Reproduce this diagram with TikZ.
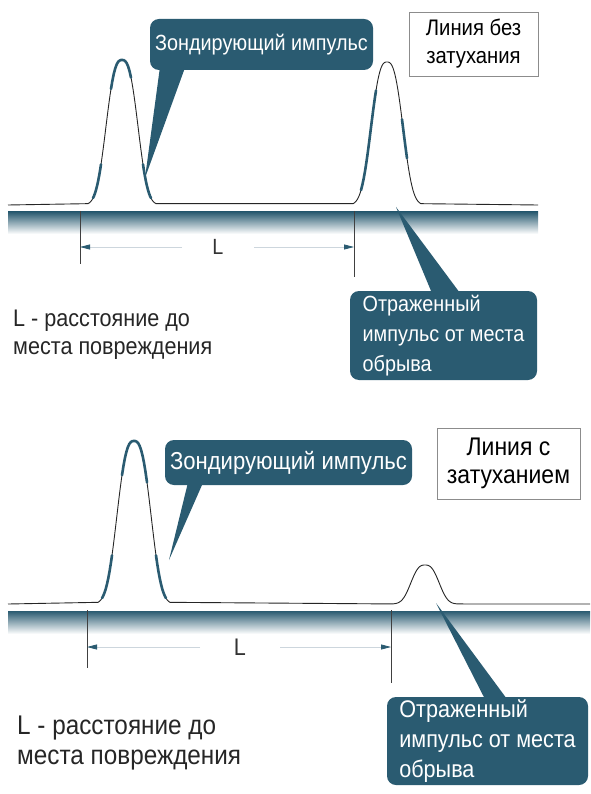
\documentclass[tikz,border=0pt]{standalone}
\usepackage{fontspec}
\setmainfont{Liberation Sans}[FakeStretch=0.9]
\usetikzlibrary{arrows.meta,calc}
\definecolor{pulseteal}{HTML}{2A5B71}
\definecolor{dimgray}{HTML}{CDD6DD}
\newcommand{\fsz}[2]{\fontsize{#1}{#2}\selectfont}

\begin{document}
\begin{tikzpicture}[x=1pt,y=-1pt,
  declare function={bell(\px,\pc,\ph,\pw)=\ph*exp(-((abs(\px-\pc)+0.001)/\pw)^2.7);},
  trace/.style={black!85,line width=0.9pt},
  hilite/.style={pulseteal,line width=2.6pt,line cap=round},
  bar/.style={top color=pulseteal,middle color=pulseteal!45,bottom color=white},
  tickline/.style={black!75,line width=0.9pt},
  dimline/.style={dimgray,line width=0.8pt,-{Triangle[length=10pt,width=5pt,color=pulseteal]}},
  callout/.style={fill=pulseteal,text=white,rounded corners=9pt,inner sep=0pt},
  infobox/.style={draw=black!45,fill=white,align=center,inner sep=0pt,line width=0.8pt},
  note/.style={text=black!85,align=left,inner sep=0pt},
]
  \useasboundingbox[fill=white] (0,0) rectangle (590,794);

  % --- line without attenuation ---
  \shade[bar] (8,212) rectangle (538,234);
  \draw[trace] (8,205)
    -- plot[domain=88:156,samples=69] (\x,{205-bell(\x,122,145,19.2)})
    -- plot[domain=353:421,samples=69] (\x,{205-bell(\x,387,143,19.2)})
    -- (538,205);
  \draw[hilite] plot[domain=93:101,samples=9] (\x,{205-bell(\x,122,145,19.2)});
  \draw[hilite] plot[domain=111:131,samples=15] (\x,{205-bell(\x,122,145,19.2)});
  \draw[hilite] plot[domain=143:151,samples=9] (\x,{205-bell(\x,122,145,19.2)});
  \draw[hilite] plot[domain=361:376,samples=12] (\x,{205-bell(\x,387,143,19.2)});
  \draw[hilite] plot[domain=402:407,samples=6] (\x,{205-bell(\x,387,143,19.2)});

  \draw[tickline] (80,211) -- (80,264);
  \draw[tickline] (354,211) -- (354,277);
  \coordinate (tickTa) at (80,247);
  \coordinate (tickTb) at (354,247);
  \node[font=\fsz{22}{26},text=black!80] (lenT) at (218,247) {L};
  \draw[dimline] ([xshift=-36pt]lenT.center) -- (tickTa);
  \draw[dimline] ([xshift=36pt]lenT.center) -- (tickTb);

  \node[callout,font=\fsz{22}{26},minimum width=223,minimum height=51] (zondT) at (261.5,44.5) {Зондирующий импульс};
  \coordinate (zondTtip) at (145,178);
  \fill[pulseteal] ([xshift=10pt,yshift=2pt]zondT.south west) -- (zondTtip) -- ([xshift=35pt,yshift=2pt]zondT.south west) -- cycle;

  \node[callout,font=\fsz{22}{30},align=left,minimum width=187,minimum height=89] (reflT) at (443.5,335.5) {Отраженный\\импульс от места\\обрыва};
  \coordinate (reflTtip) at (396,207);
  \fill[pulseteal] ([xshift=82pt,yshift=-2pt]reflT.north west) -- (reflTtip) -- ([xshift=110pt,yshift=-2pt]reflT.north west) -- cycle;

  \node[infobox,font=\fsz{22.5}{28},minimum width=129,minimum height=64] (modeT) at (473.5,44) {Линия без\\затухания};
  \node[note,font=\fsz{24}{28},anchor=west] (noteT) at (13,335) {L - расстояние до\\места повреждения};

  % --- line with attenuation ---
  \shade[bar] (8,611) rectangle (590,634);
  \draw[trace] (8,604)
    -- plot[domain=98:170,samples=73] (\x,{604-bell(\x,134,163,20.5)})
    -- plot[domain=391:459,samples=69] (\x,{604-bell(\x,425,39,17)})
    -- (590,604);
  \draw[hilite] plot[domain=102:112,samples=9] (\x,{604-bell(\x,134,163,20.5)});
  \draw[hilite] plot[domain=122:147,samples=18] (\x,{604-bell(\x,134,163,20.5)});
  \draw[hilite] plot[domain=156:166,samples=9] (\x,{604-bell(\x,134,163,20.5)});

  \draw[tickline] (87,610) -- (87,668);
  \draw[tickline] (391,610) -- (391,683);
  \coordinate (tickBa) at (87,647);
  \coordinate (tickBb) at (391,647);
  \node[font=\fsz{24}{28},text=black!80] (lenB) at (240,647) {L};
  \draw[dimline] ([xshift=-40pt]lenB.center) -- (tickBa);
  \draw[dimline] ([xshift=40pt]lenB.center) -- (tickBb);

  \node[callout,font=\fsz{24.5}{28},minimum width=247,minimum height=45] (zondB) at (288.5,462.5) {Зондирующий импульс};
  \coordinate (zondBtip) at (169,560);
  \fill[pulseteal] ([xshift=23pt,yshift=2pt]zondB.south west) -- (zondBtip) -- ([xshift=38pt,yshift=2pt]zondB.south west) -- cycle;

  \node[callout,font=\fsz{24}{30},align=left,minimum width=201,minimum height=88] (reflB) at (487.5,741) {Отраженный\\импульс от места\\обрыва};
  \coordinate (reflBtip) at (436,603);
  \fill[pulseteal] ([xshift=98pt,yshift=-2pt]reflB.north west) -- (reflBtip) -- ([xshift=120pt,yshift=-2pt]reflB.north west) -- cycle;

  \node[infobox,font=\fsz{25.5}{28},minimum width=143,minimum height=71] (modeB) at (508.5,463.5) {Линия с\\затуханием};
  \node[note,font=\fsz{27}{30},anchor=west] (noteB) at (17,743) {L - расстояние до\\места повреждения};
\end{tikzpicture}
\end{document}
